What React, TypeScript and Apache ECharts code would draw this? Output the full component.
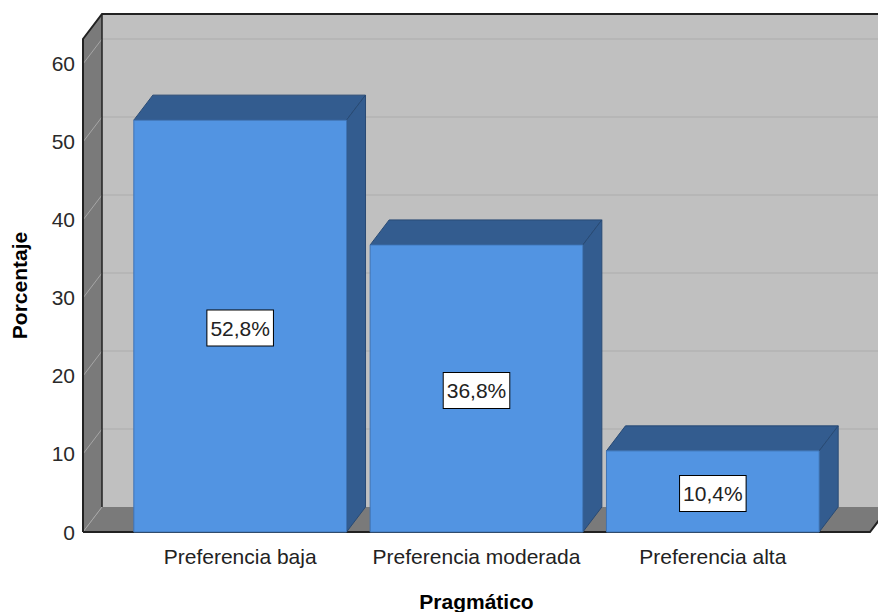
import React, { useEffect, useRef } from 'react';
import * as echarts from 'echarts';

const categories = ['Preferencia baja', 'Preferencia moderada', 'Preferencia alta'];
const percentages = [52.8, 36.8, 10.4];
const yTicks = [0, 10, 20, 30, 40, 50, 60];
const yMax = 63.2;
const xTitle = 'Pragmático';
const yTitle = 'Porcentaje';

const DX = 19;
const DY = -25;
const SIDE = 39;
const FONT = '"Liberation Sans", Arial, Helvetica, sans-serif';

const fmt = (v: number) => v.toFixed(1).replace('.', ',') + '%';

export default function App() {
  const ref = useRef<HTMLDivElement>(null);
  useEffect(() => {
    const chart = echarts.init(ref.current!, null, { renderer: 'svg' });
    chart.setOption({
      animation: false,
      backgroundColor: '#ffffff',
      textStyle: { fontFamily: FONT },
      grid: { left: 122, right: 47, top: 39, bottom: 80, containLabel: false, outerBoundsMode: 'none' },
      xAxis: {
        type: 'category',
        data: categories,
        axisLine: { show: false },
        axisTick: { show: false },
        axisLabel: { fontSize: 21, color: '#222', margin: 14, interval: 0, fontFamily: FONT },
        name: xTitle,
        nameLocation: 'middle',
        nameGap: 59,
        nameTextStyle: { fontSize: 21, fontWeight: 'bold', color: '#000', fontFamily: FONT },
      },
      yAxis: {
        type: 'value',
        min: 0,
        max: yMax,
        interval: 10,
        offset: SIDE,
        axisLine: { show: false },
        axisTick: { show: false },
        splitLine: { show: false },
        axisLabel: {
          fontSize: 21,
          color: '#2a2a2a',
          margin: 8,
          fontFamily: FONT,
          padding: [6, 0, 0, 0],
          formatter: (v: number) => (yTicks.includes(v) ? String(v) : ''),
        },
        name: yTitle,
        nameLocation: 'middle',
        nameGap: 53,
        nameTextStyle: { fontSize: 21, fontWeight: 'bold', color: '#000', fontFamily: FONT },
      },
      series: [
        {
          type: 'custom',
          silent: true,
          z: 1,
          data: [[0, 0]],
          renderItem: (params: any, api: any) => {
            const cs = params.coordSys;
            const fl = cs.x - SIDE;
            const fr = cs.x + cs.width + SIDE;
            const y0 = api.coord([0, 0])[1];
            const yTop = api.coord([0, yMax])[1];
            const children: any[] = [];
            children.push({
              type: 'rect',
              shape: { x: fl + DX, y: yTop + DY, width: fr - fl, height: y0 - yTop },
              style: { fill: '#c0c0c0' },
            });
            children.push({
              type: 'polygon',
              shape: { points: [[fl, yTop], [fl + DX, yTop + DY], [fl + DX, y0 + DY], [fl, y0]] },
              style: { fill: '#7a7a7a' },
            });
            children.push({
              type: 'polygon',
              shape: { points: [[fl, y0], [fr, y0], [fr + DX, y0 + DY], [fl + DX, y0 + DY]] },
              style: { fill: '#7a7a7a' },
            });
            yTicks.forEach((v) => {
              const y = api.coord([0, v])[1];
              if (v > 0) {
                children.push({
                  type: 'line',
                  shape: { x1: fl + DX, y1: y + DY, x2: fr + DX, y2: y + DY },
                  style: { stroke: '#b3b3b3', lineWidth: 1.5 },
                });
              }
              children.push({
                type: 'line',
                shape: { x1: fl, y1: y, x2: fl + DX, y2: y + DY },
                style: { stroke: '#a6a6a6', lineWidth: 1 },
              });
            });
            children.push({
              type: 'polyline',
              shape: { points: [[fl, y0], [fl, yTop], [fl + DX, yTop + DY], [fr + DX, yTop + DY]] },
              style: { stroke: '#222', lineWidth: 2, fill: 'none' },
            });
            children.push({
              type: 'line',
              shape: { x1: fl + DX, y1: yTop + DY, x2: fl + DX, y2: y0 + DY },
              style: { stroke: '#222', lineWidth: 1.5 },
            });
            children.push({
              type: 'polyline',
              shape: { points: [[fl, y0], [fr, y0], [fr + DX, y0 + DY]] },
              style: { stroke: '#222', lineWidth: 2, fill: 'none' },
            });
            return { type: 'group', children };
          },
        },
        {
          type: 'custom',
          z: 2,
          data: percentages.map((v, i) => [i, v]),
          renderItem: (params: any, api: any) => {
            const i = api.value(0);
            const v = api.value(1);
            const [cx, yt] = api.coord([i, v]);
            const yb = api.coord([i, 0])[1];
            const bw = api.size([1, 0])[0] * 0.9;
            const xl = cx - bw / 2;
            const xr = cx + bw / 2;
            return {
              type: 'group',
              children: [
                {
                  type: 'polygon',
                  shape: { points: [[xl, yt], [xl + DX, yt + DY], [xr + DX, yt + DY], [xr, yt]] },
                  style: { fill: '#335c8f', stroke: '#284a74', lineWidth: 1 },
                },
                {
                  type: 'polygon',
                  shape: { points: [[xr, yt], [xr + DX, yt + DY], [xr + DX, yb + DY], [xr, yb]] },
                  style: { fill: '#335c8f', stroke: '#284a74', lineWidth: 1 },
                },
                {
                  type: 'rect',
                  shape: { x: xl, y: yt, width: bw, height: yb - yt },
                  style: { fill: '#5294e2', stroke: '#3f74b5', lineWidth: 1 },
                },
                {
                  type: 'text',
                  style: {
                    text: fmt(v),
                    x: cx,
                    y: (yt + yb) / 2 + 2,
                    align: 'center',
                    verticalAlign: 'middle',
                    fontSize: 21,
                    fontFamily: FONT,
                    fill: '#222',
                    backgroundColor: '#ffffff',
                    borderColor: '#000000',
                    borderWidth: 1,
                    padding: [7, 3, 7, 3],
                  },
                },
              ],
            };
          },
        },
      ],
    });
    return () => chart.dispose();
  }, []);
  return (
    <div
      ref={ref}
      style={{ position: 'fixed', left: 0, top: 0, width: 878, height: 612 }}
    />
  );
}
